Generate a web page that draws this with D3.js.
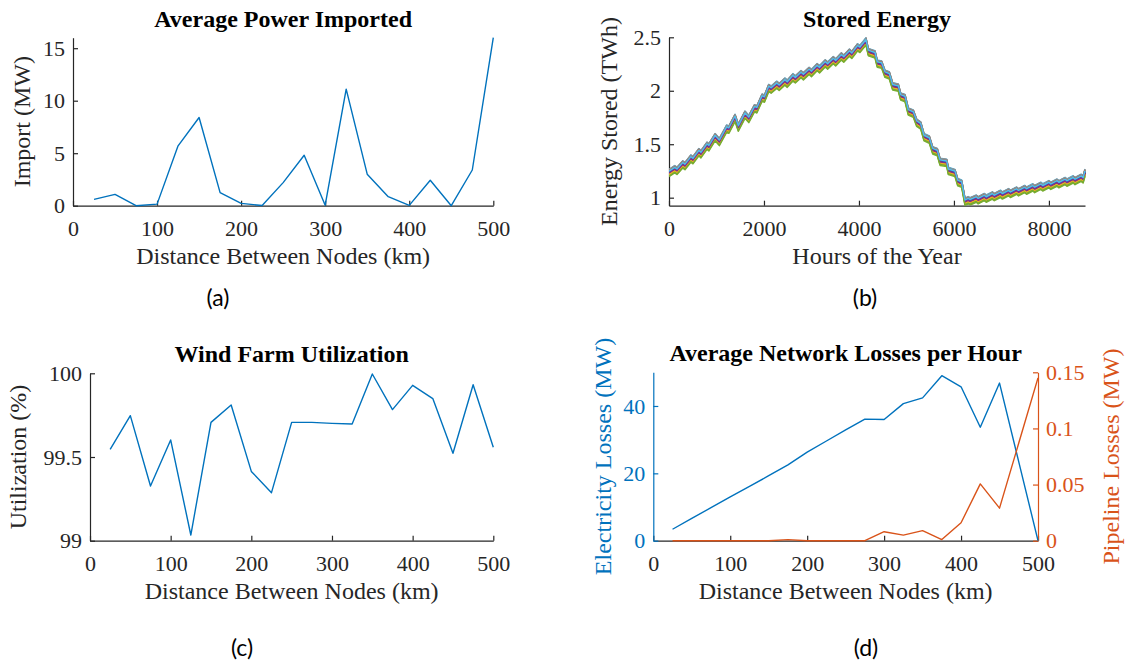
<!DOCTYPE html>
<html>
<head>
<meta charset="utf-8">
<script src="https://cdn.jsdelivr.net/npm/d3@7"></script>
<style>
  body { margin: 0; background: #fff; }
  svg { display: block; }
</style>
</head>
<body>
<svg id="fig" width="1127" height="666"></svg>
<script>
// ---- Data -------------------------------------------------------------
const distanceKm = [25, 50, 75, 100, 125, 150, 175, 200, 225, 250, 275, 300, 325, 350, 375, 400, 425, 450, 475, 500];

// (a) average imported power, MW
const importMW = [0.6, 1.08, 0, 0.15, 5.7, 8.4, 1.24, 0.22, 0.02, 2.2, 4.8, 0.05, 11.1, 3.0, 0.86, 0.03, 2.42, 0, 3.4, 16.0];

// (c) wind farm utilization, %
const utilizationPct = [99.546, 99.747, 99.327, 99.602, 99.034, 99.707, 99.811, 99.414, 99.287, 99.707,
                        99.707, 99.701, 99.697, 99.996, 99.783, 99.928, 99.849, 99.522, 99.932, 99.558];

// (d) network losses
const electricityLossMW = [3.4, 6.6, 9.8, 13.0, 16.1, 19.3, 22.5, 26.3, 29.6, 32.9, 36.1, 36.0, 40.7, 42.4, 49.0, 45.7, 33.7, 46.8, 23.4, 0];
const pipelineLossMW = [0, 0, 0, 0, 0, 0, 0.001, 0, 0, 0, 0, 0.008, 0.005, 0.009, 0.001, 0.016, 0.0506, 0.029, 0.087, 0.145];

// (b) stored energy over the year: upper envelope of the runs (hour, TWh)
const storedHours = [
  0, 120, 168, 290, 336, 460, 504, 630, 672, 800, 840, 970, 1060, 1215, 1260, 1390, 1460, 1600, 1680, 1800, 1850, 1960, 2010,
  2100, 2150, 2270, 2320, 2440, 2490, 2610, 2660, 2780, 2830, 2950, 3000, 3120, 3170, 3290, 3340, 3460, 3510, 3630, 3680,
  3800, 3850, 3970, 4020, 4148,
  4197, 4338, 4386, 4478, 4548, 4639, 4710, 4829, 4878, 4970, 5039, 5145, 5216, 5300, 5370, 5482, 5553, 5650, 5707, 5848,
  5882, 6022, 6079, 6163, 6233,
  6300, 6340, 6470, 6510, 6640, 6680, 6810, 6850, 6980, 7020, 7150, 7190, 7320, 7360, 7490, 7530, 7660, 7700, 7830, 7870,
  8000, 8040, 8170, 8210, 8340, 8380, 8510, 8550, 8680, 8720, 8760
];
const storedTopTWh = [
  1.265, 1.30, 1.285, 1.345, 1.33, 1.40, 1.385, 1.46, 1.44, 1.52, 1.505, 1.60, 1.555, 1.68, 1.67, 1.78, 1.69, 1.81, 1.77, 1.87, 1.86, 1.97, 1.96,
  2.06, 2.045, 2.09, 2.07, 2.12, 2.10, 2.16, 2.14, 2.19, 2.17, 2.22, 2.20, 2.255, 2.235, 2.29, 2.27, 2.32, 2.30, 2.355, 2.335,
  2.39, 2.37, 2.44, 2.425, 2.495,
  2.396, 2.374, 2.287, 2.278, 2.193, 2.178, 2.075, 2.063, 1.98, 1.965, 1.84, 1.82, 1.735, 1.71, 1.60, 1.577, 1.477, 1.46, 1.37, 1.36,
  1.284, 1.265, 1.18, 1.165, 0.995,
  1.01, 1.0, 1.025, 1.01, 1.04, 1.025, 1.055, 1.04, 1.07, 1.055, 1.085, 1.07, 1.10, 1.085, 1.115, 1.10, 1.13, 1.115, 1.145, 1.13,
  1.16, 1.145, 1.175, 1.16, 1.19, 1.175, 1.205, 1.19, 1.22, 1.205, 1.268
];
// how far each run (25 km ... 500 km) sits below the envelope, TWh
const runOffsetTWh = [0.016, 0.003, 0.044, 0.036, 0.060, 0.000, 0.030, 0.020, 0.005, 0.042,
                      0.040, 0.052, 0.007, 0.038, 0.024, 0.012, 0.046, 0.034, 0.068, 0.016];

// tick values
const distTicks = [0, 100, 200, 300, 400, 500];
const importTicks = [0, 5, 10, 15];
const hourTicks = [0, 2000, 4000, 6000, 8000];
const storedTicks = [1, 1.5, 2, 2.5];
const utilTicks = [99, 99.5, 100];
const elecTicks = [0, 20, 40];
const pipeTicks = [0, 0.05, 0.1, 0.15];

// ---- Styling ----------------------------------------------------------
const SERIF = '"Liberation Serif", "Times New Roman", serif';
const AXIS = "#262626";
const BLUE = "#0072BD", ORANGE = "#D95319";
const CYCLE = ["#0072BD", "#D95319", "#EDB120", "#7E2F8E", "#77AC30", "#4DBEEE", "#A2142F"];
const TICK_FS = 22, LABEL_FS = 24;

const svg = d3.select("#fig");
svg.append("rect").attr("width", 1127).attr("height", 666).attr("fill", "#fff");

function styleAxis(a, color, textColor) {
  a.attr("font-family", null).attr("font-size", null);
  a.select(".domain").attr("stroke", color).attr("stroke-width", 1.2);
  a.selectAll(".tick line").attr("stroke", color).attr("stroke-width", 1.2);
  a.selectAll(".tick text")
    .attr("fill", textColor)
    .style("font-family", SERIF)
    .style("font-size", TICK_FS + "px");
}

function xAxis(g, x, ticks, y0, fmt) {
  const a = g.append("g").attr("transform", `translate(0,${y0})`)
    .call(d3.axisBottom(x).tickValues(ticks).tickSizeInner(-5).tickSizeOuter(0).tickPadding(0).tickFormat(fmt || d3.format("d")));
  styleAxis(a, AXIS, AXIS);
  a.selectAll(".tick text").attr("y", 30).attr("dy", null);
  return a;
}

function yAxisLeft(g, y, ticks, x0, fmt, color) {
  const a = g.append("g").attr("transform", `translate(${x0},0)`)
    .call(d3.axisLeft(y).tickValues(ticks).tickSizeInner(-5).tickSizeOuter(0).tickPadding(8).tickFormat(fmt));
  styleAxis(a, color || AXIS, color || AXIS);
  return a;
}

function yAxisRight(g, y, ticks, x0, fmt, color) {
  const a = g.append("g").attr("transform", `translate(${x0},0)`)
    .call(d3.axisRight(y).tickValues(ticks).tickSizeInner(-5).tickSizeOuter(0).tickPadding(8).tickFormat(fmt));
  styleAxis(a, color, color);
  return a;
}

function title(text, cx, baseline) {
  svg.append("text").attr("x", cx).attr("y", baseline).attr("text-anchor", "middle")
    .style("font-family", SERIF).style("font-size", LABEL_FS + "px").style("font-weight", "bold")
    .attr("fill", "#000").text(text);
}

function xLabel(text, cx, baseline) {
  svg.append("text").attr("x", cx).attr("y", baseline).attr("text-anchor", "middle")
    .style("font-family", SERIF).style("font-size", LABEL_FS + "px")
    .attr("fill", AXIS).text(text);
}

function yLabel(text, bx, cy, color) {
  svg.append("text").attr("transform", `translate(${bx},${cy}) rotate(-90)`).attr("text-anchor", "middle")
    .style("font-family", SERIF).style("font-size", LABEL_FS + "px")
    .attr("fill", color || AXIS).text(text);
}

function panelTag(text, cx, baseline) {
  svg.append("text").attr("x", cx).attr("y", baseline).attr("text-anchor", "middle")
    .style("font-family", 'Lato, "Open Sans", sans-serif').style("font-size", "23px")
    .attr("fill", "#000").text(text);
}

const trimNum = v => String(+v.toFixed(3));

// ---- (a) Average Power Imported ----------------------------------------
{
  const x = d3.scaleLinear().domain([0, 500]).range([73, 493.3]);
  const y = d3.scaleLinear().domain([0, 16]).range([205.7, 37.7]);
  const g = svg.append("g");
  xAxis(g, x, distTicks, y(0));
  yAxisLeft(g, y, importTicks, x(0), d3.format("d"));
  const line = d3.line().x((d, i) => x(distanceKm[i])).y(d => y(d));
  g.append("path").datum(importMW).attr("d", line)
    .attr("fill", "none").attr("stroke", BLUE).attr("stroke-width", 1.4).attr("stroke-linejoin", "round");
  title("Average Power Imported", (x(0) + x(500)) / 2, 27);
  xLabel("Distance Between Nodes (km)", (x(0) + x(500)) / 2, 264);
  yLabel("Import (MW)", 30, (y(0) + y(16)) / 2);
  panelTag("(a)", 218, 306);
}

// ---- (b) Stored Energy -------------------------------------------------
{
  const x = d3.scaleLinear().domain([0, 8760]).range([669, 1085]);
  const y = d3.scaleLinear().domain([0.925, 2.5]).range([205.7, 37.3]);
  const g = svg.append("g");
  xAxis(g, x, hourTicks, y(0.925));
  yAxisLeft(g, y, storedTicks, x(0), trimNum);
  const runs = runOffsetTWh.map((off, k) => ({
    color: CYCLE[k % CYCLE.length],
    values: storedHours.map((h, j) => [h, storedTopTWh[j] - off])
  }));
  const line = d3.line().x(d => x(d[0])).y(d => y(d[1]));
  svg.append("clipPath").attr("id", "clipB").append("rect")
    .attr("x", x(0)).attr("y", 30).attr("width", x(8760) - x(0) + 2).attr("height", y(0.925) - 30);
  g.append("g").attr("clip-path", "url(#clipB)").selectAll("path").data(runs).join("path")
    .attr("d", r => line(r.values))
    .attr("fill", "none").attr("stroke", r => r.color).attr("stroke-width", 1.5).attr("stroke-linejoin", "round");
  title("Stored Energy", (x(0) + x(8760)) / 2, 27);
  xLabel("Hours of the Year", (x(0) + x(8760)) / 2, 264);
  yLabel("Energy Stored (TWh)", 617, (y(0.925) + y(2.5)) / 2);
  panelTag("(b)", 865, 306);
}

// ---- (c) Wind Farm Utilization -----------------------------------------
{
  const x = d3.scaleLinear().domain([0, 500]).range([90, 493.3]);
  const y = d3.scaleLinear().domain([99, 100]).range([540.7, 373.3]);
  const g = svg.append("g");
  xAxis(g, x, distTicks, y(99));
  yAxisLeft(g, y, utilTicks, x(0), trimNum);
  const line = d3.line().x((d, i) => x(distanceKm[i])).y(d => y(d));
  g.append("path").datum(utilizationPct).attr("d", line)
    .attr("fill", "none").attr("stroke", BLUE).attr("stroke-width", 1.4).attr("stroke-linejoin", "round");
  title("Wind Farm Utilization", (x(0) + x(500)) / 2, 362);
  xLabel("Distance Between Nodes (km)", (x(0) + x(500)) / 2, 599);
  yLabel("Utilization (%)", 26, (y(99) + y(100)) / 2);
  panelTag("(c)", 242, 656);
}

// ---- (d) Average Network Losses per Hour -------------------------------
{
  const x = d3.scaleLinear().domain([0, 500]).range([653.3, 1038]);
  const yL = d3.scaleLinear().domain([0, 50]).range([540.7, 372.3]);
  const yR = d3.scaleLinear().domain([0, 0.15]).range([540.7, 372.3]);
  const g = svg.append("g");
  xAxis(g, x, distTicks, yL(0));
  yAxisLeft(g, yL, elecTicks, x(0), d3.format("d"), BLUE);
  yAxisRight(g, yR, pipeTicks, x(500), trimNum, ORANGE);
  const lineL = d3.line().x((d, i) => x(distanceKm[i])).y(d => yL(d));
  const lineR = d3.line().x((d, i) => x(distanceKm[i])).y(d => yR(d));
  g.append("path").datum(electricityLossMW).attr("d", lineL)
    .attr("fill", "none").attr("stroke", BLUE).attr("stroke-width", 1.4).attr("stroke-linejoin", "round");
  g.append("path").datum(pipelineLossMW).attr("d", lineR)
    .attr("fill", "none").attr("stroke", ORANGE).attr("stroke-width", 1.4).attr("stroke-linejoin", "round");
  title("Average Network Losses per Hour", (x(0) + x(500)) / 2, 361);
  xLabel("Distance Between Nodes (km)", (x(0) + x(500)) / 2, 599);
  yLabel("Electricity Losses (MW)", 611, (yL(0) + yL(50)) / 2, BLUE);
  yLabel("Pipeline Losses (MW)", 1119, (yR(0) + yR(0.15)) / 2, ORANGE);
  panelTag("(d)", 866, 656);
}
</script>
</body>
</html>
